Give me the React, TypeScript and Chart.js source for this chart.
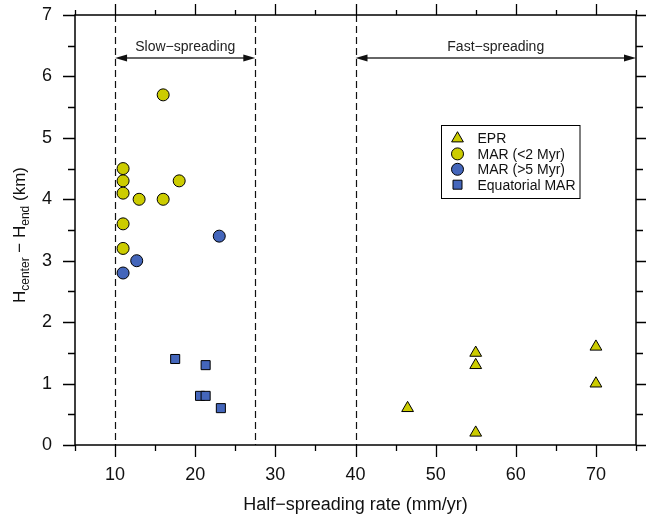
import React, { useEffect, useRef } from "react";
import { Chart, registerables } from "chart.js";

Chart.register(...registerables);

// ---- data ----
const seriesNames = ["EPR", "MAR (<2 Myr)", "MAR (>5 Myr)", "Equatorial MAR"];
const eprX = [46.5, 55, 55, 55, 70, 70];
const eprY = [0.6, 1.5, 1.3, 0.2, 1.6, 1.0];
const marYoungX = [11, 11, 11, 11, 11, 13, 16, 16, 18];
const marYoungY = [4.5, 4.3, 4.1, 3.6, 3.2, 4.0, 5.7, 4.0, 4.3];
const marOldX = [11, 12.7, 23];
const marOldY = [2.8, 3.0, 3.4];
const eqMarX = [17.5, 21.3, 20.6, 21.3, 23.2];
const eqMarY = [1.4, 1.3, 0.8, 0.8, 0.6];

const xTickLabels = [10, 20, 30, 40, 50, 60, 70];
const yTickLabels = [0, 1, 2, 3, 4, 5, 6, 7];
const boundaries = [10, 27.5, 40];
const slowRange = [10, 27.5];
const fastRange = [40, 75];
const arrowLevel = 6.3;
const regionLabels = ["Slow\u2212spreading", "Fast\u2212spreading"];
const xTitle = "Half\u2212spreading rate (mm/yr)";

const YELLOW = "#cccc00";
const BLUE = "#4466bb";
const FONT = "'Liberation Sans', Arial, Helvetica, sans-serif";

const toPts = (xs: number[], ys: number[]) => xs.map((x, i) => ({ x, y: ys[i] }));

function drawMarker(ctx: CanvasRenderingContext2D, kind: string, x: number, y: number, color: string) {
  ctx.save();
  ctx.fillStyle = color;
  ctx.strokeStyle = "#000";
  ctx.lineWidth = 1;
  ctx.beginPath();
  if (kind === "triangle") {
    const r = 6.8;
    ctx.moveTo(x, y - r);
    ctx.lineTo(x + r * 0.866, y + r * 0.5);
    ctx.lineTo(x - r * 0.866, y + r * 0.5);
    ctx.closePath();
  } else if (kind === "circle") {
    ctx.arc(x, y, 6, 0, Math.PI * 2);
  } else {
    ctx.rect(x - 4.5, y - 4.5, 9, 9);
  }
  ctx.fill();
  ctx.stroke();
  ctx.restore();
}

const markerKinds = ["triangle", "circle", "circle", "rect"];
const markerColors = [YELLOW, YELLOW, BLUE, BLUE];

const decorPlugin = {
  id: "decor",
  beforeDatasetsDraw(chart: any) {
    const { ctx, chartArea: a, scales } = chart;
    const xs = scales.x;
    const ys = scales.y;
    ctx.save();
    ctx.strokeStyle = "#111";
    ctx.lineWidth = 1.2;
    ctx.setLineDash([7, 4]);
    boundaries.forEach((b) => {
      const px = Math.round(xs.getPixelForValue(b)) + 0.5;
      ctx.beginPath();
      ctx.moveTo(px, a.top);
      ctx.lineTo(px, a.bottom);
      ctx.stroke();
    });
    ctx.setLineDash([]);
    const ay = ys.getPixelForValue(arrowLevel);
    const drawArrow = (x0: number, x1: number) => {
      ctx.strokeStyle = "#333";
      ctx.fillStyle = "#111";
      ctx.lineWidth = 1.5;
      ctx.beginPath();
      ctx.moveTo(x0 + 8, ay);
      ctx.lineTo(x1 - 8, ay);
      ctx.stroke();
      const L = 12, H = 3.5;
      ctx.beginPath();
      ctx.moveTo(x0, ay);
      ctx.lineTo(x0 + L, ay - H);
      ctx.lineTo(x0 + L, ay + H);
      ctx.closePath();
      ctx.fill();
      ctx.beginPath();
      ctx.moveTo(x1, ay);
      ctx.lineTo(x1 - L, ay - H);
      ctx.lineTo(x1 - L, ay + H);
      ctx.closePath();
      ctx.fill();
    };
    [slowRange, fastRange].forEach((r, i) => {
      const x0 = xs.getPixelForValue(r[0]);
      const x1 = xs.getPixelForValue(r[1]);
      drawArrow(x0, x1);
      ctx.fillStyle = "#222";
      ctx.font = `14px ${FONT}`;
      ctx.textAlign = "center";
      ctx.textBaseline = "middle";
      ctx.fillText(regionLabels[i], (x0 + x1) / 2, ay - 11);
    });
    ctx.restore();
  },
  afterDraw(chart: any) {
    const { ctx, chartArea: a, scales } = chart;
    const xs = scales.x;
    const ys = scales.y;
    ctx.save();
    ctx.strokeStyle = "#000";
    ctx.lineWidth = 1.5;
    ctx.strokeRect(a.left, a.top, a.right - a.left, a.bottom - a.top);
    ctx.lineWidth = 1.3;
    for (let v = 0; v <= 7.001; v += 0.5) {
      const py = Math.round(ys.getPixelForValue(v)) + 0.5;
      const major = Math.abs(v - Math.round(v)) < 1e-6;
      ctx.beginPath();
      ctx.moveTo(a.left - (major ? 12 : 7), py);
      ctx.lineTo(a.left, py);
      ctx.moveTo(a.right, py);
      ctx.lineTo(a.right + (major ? 10 : 7), py);
      ctx.stroke();
    }
    for (let v = 5; v <= 75.001; v += 5) {
      const px = Math.round(xs.getPixelForValue(v)) + 0.5;
      const major = v % 10 === 0;
      ctx.beginPath();
      ctx.moveTo(px, a.bottom);
      ctx.lineTo(px, a.bottom + (major ? 12 : 6));
      ctx.moveTo(px, a.top);
      ctx.lineTo(px, a.top - (major ? 11 : 5));
      ctx.stroke();
    }
    ctx.fillStyle = "#111";
    ctx.font = `18px ${FONT}`;
    ctx.textAlign = "center";
    ctx.textBaseline = "alphabetic";
    ctx.fillText(xTitle, (a.left + a.right) / 2, 510);

    const parts: [string, boolean][] = [
      ["H", false],
      ["center", true],
      [" \u2212 H", false],
      ["end", true],
      [" (km)", false],
    ];
    const mainFont = `17px ${FONT}`;
    const subFont = `12px ${FONT}`;
    let total = 0;
    parts.forEach(([t, sub]) => {
      ctx.font = sub ? subFont : mainFont;
      total += ctx.measureText(t).width;
    });
    ctx.translate(25, (a.top + a.bottom) / 2 + 5);
    ctx.rotate(-Math.PI / 2);
    ctx.textAlign = "left";
    let cx = -total / 2;
    parts.forEach(([t, sub]) => {
      ctx.font = sub ? subFont : mainFont;
      ctx.fillText(t, cx, sub ? 4 : 0);
      cx += ctx.measureText(t).width;
    });
    ctx.setTransform(1, 0, 0, 1, 0, 0);

    const lx = 441.5, ly = 125.5, lw = 138.5, lh = 73;
    ctx.fillStyle = "#fff";
    ctx.fillRect(lx, ly, lw, lh);
    ctx.strokeStyle = "#000";
    ctx.lineWidth = 1;
    ctx.strokeRect(lx, ly, lw, lh);
    ctx.font = `14px ${FONT}`;
    ctx.textAlign = "left";
    ctx.textBaseline = "middle";
    seriesNames.forEach((name, i) => {
      const ry = ly + 13 + i * 15.4;
      drawMarker(ctx, markerKinds[i], lx + 16, ry, markerColors[i]);
      ctx.fillStyle = "#111";
      ctx.fillText(name, lx + 36, ry + 1);
    });
    ctx.restore();
  },
};

export default function App() {
  const ref = useRef<HTMLCanvasElement | null>(null);
  useEffect(() => {
    if (!ref.current) return;
    const chart = new Chart(ref.current, {
      type: "scatter",
      data: {
        datasets: [
          {
            label: seriesNames[0],
            data: toPts(eprX, eprY),
            pointStyle: "triangle",
            pointRadius: 6.8,
            backgroundColor: YELLOW,
            borderColor: "#000",
            borderWidth: 1,
          },
          {
            label: seriesNames[1],
            data: toPts(marYoungX, marYoungY),
            pointStyle: "circle",
            pointRadius: 6,
            backgroundColor: YELLOW,
            borderColor: "#000",
            borderWidth: 1,
          },
          {
            label: seriesNames[2],
            data: toPts(marOldX, marOldY),
            pointStyle: "circle",
            pointRadius: 6,
            backgroundColor: BLUE,
            borderColor: "#000",
            borderWidth: 1,
          },
          {
            label: seriesNames[3],
            data: toPts(eqMarX, eqMarY),
            pointStyle: "rect",
            pointRadius: 6.4,
            backgroundColor: BLUE,
            borderColor: "#000",
            borderWidth: 1,
          },
        ],
      },
      options: {
        responsive: false,
        animation: false,
        layout: { padding: { top: 15, right: 10, left: 0, bottom: 0 } },
        plugins: { legend: { display: false }, tooltip: { enabled: false } },
        scales: {
          x: {
            type: "linear",
            min: 5,
            max: 75,
            grid: { display: false, drawTicks: false },
            border: { display: false },
            afterFit: (s: any) => {
              s.height = 74;
              s.paddingLeft = 0;
              s.paddingRight = 0;
            },
            ticks: {
              stepSize: 5,
              padding: 19,
              color: "#111",
              font: { size: 18, family: FONT },
              maxRotation: 0,
              autoSkip: false,
              callback: (v: any) => (xTickLabels.includes(Number(v)) ? String(v) : ""),
            },
          },
          y: {
            type: "linear",
            min: 0,
            max: 7,
            grid: { display: false, drawTicks: false },
            border: { display: false },
            afterFit: (s: any) => {
              s.width = 75;
              s.paddingTop = 0;
              s.paddingBottom = 0;
            },
            ticks: {
              stepSize: 0.5,
              padding: 23,
              color: "#111",
              font: { size: 18, family: FONT },
              autoSkip: false,
              callback: (v: any) => (yTickLabels.includes(Number(v)) ? String(v) : ""),
            },
          },
        },
      },
      plugins: [decorPlugin],
    });
    return () => chart.destroy();
  }, []);
  return (
    <div style={{ position: "fixed", left: 0, top: 0, width: 646, height: 519, background: "#fff" }}>
      <canvas ref={ref} width={646} height={519} />
    </div>
  );
}
